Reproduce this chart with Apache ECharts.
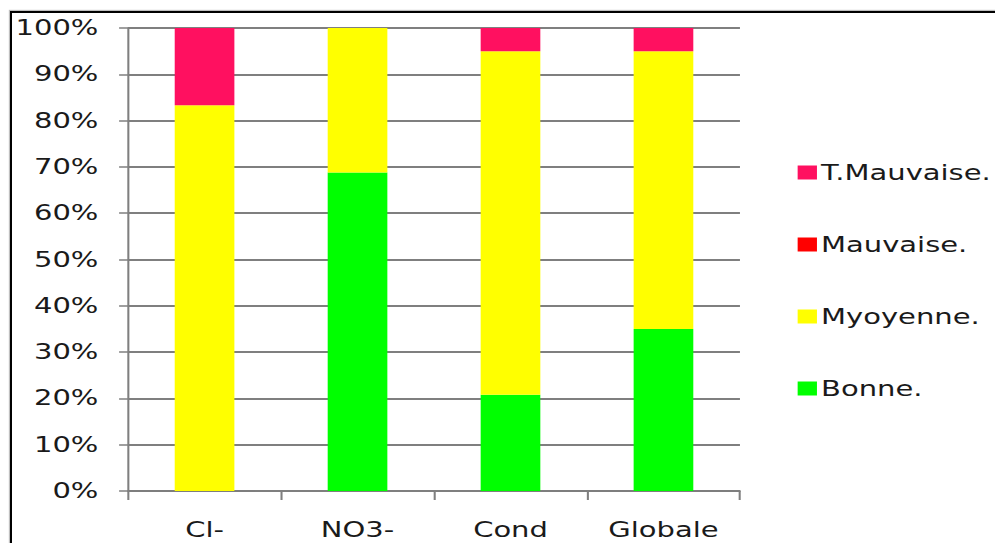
<!DOCTYPE html>
<html>
<head>
<meta charset="utf-8">
<script src="https://cdn.jsdelivr.net/npm/echarts@6/dist/echarts.min.js"></script>
<style>
  html, body { margin: 0; padding: 0; background: #fff; overflow: hidden; }
  #frame {
    position: absolute; left: 10px; top: 11px; width: 1200px; height: 800px;
    border-left: 2.5px solid #000; border-top: 2.5px solid #000;
    box-shadow: -1px -1px 1px rgba(0,0,0,0.25);
  }
  /* The chart is laid out narrow and widened horizontally, giving wide lettering */
  #chart {
    position: absolute; left: 0; top: 0; width: 721px; height: 543px;
    transform: scaleX(1.38); transform-origin: 0 0;
  }
</style>
</head>
<body>
<div id="frame"></div>
<div id="chart"></div>
<script>
// Share of each quality class per parameter (percent)
const categories   = ['Cl-', 'NO3-', 'Cond', 'Globale'];
const bonne        = [0, 68.8, 20.8, 35];
const moyenne      = [83.3, 31.2, 74.2, 60];
const mauvaise     = [0, 0, 0, 0];
const tresMauvaise = [16.7, 0, 5, 5];
const yTicks       = [0, 10, 20, 30, 40, 50, 60, 70, 80, 90, 100];

const chart = echarts.init(document.getElementById('chart'), null, { renderer: 'svg' });

const font = 'DejaVu Sans, Verdana, sans-serif';
const gray = '#7f7f7f';

function bar(name, data, color) {
  return {
    name, type: 'bar', stack: 'total', data,
    barWidth: '39%',
    itemStyle: { color },
    emphasis: { disabled: true }
  };
}

chart.setOption({
  animation: false,
  backgroundColor: 'transparent',
  grid: { left: 92.8, right: 184.8, top: 28, bottom: 52, containLabel: false },
  legend: {
    orient: 'vertical',
    left: 573, top: 157,
    icon: 'rect',
    itemWidth: 14, itemHeight: 14, itemGap: 51,
    data: ['T.Mauvaise.', 'Mauvaise.', 'Myoyenne.', 'Bonne.'],
    textStyle: { fontFamily: font, fontSize: 21, color: '#1a1a1a', lineHeight: 21, padding: [0, 0, 0, -2] },
    selectedMode: false
  },
  xAxis: {
    type: 'category',
    data: categories,
    boundaryGap: true,
    axisLine: { lineStyle: { color: gray, width: 1.5 } },
    axisTick: { show: true, length: 9, lineStyle: { color: gray, width: 1.5 } },
    axisLabel: { fontFamily: font, fontSize: 21, color: '#1a1a1a', margin: 28 }
  },
  yAxis: {
    type: 'value',
    min: yTicks[0], max: yTicks[yTicks.length - 1], interval: 10,
    axisLine: { show: true, lineStyle: { color: gray, width: 1.5 } },
    axisTick: { show: true, length: 6.5, lineStyle: { color: gray, width: 1.5 } },
    splitLine: { show: true, lineStyle: { color: gray, width: 2 } },
    axisLabel: { fontFamily: font, fontSize: 21, color: '#1a1a1a', margin: 21.5, formatter: '{value}%' }
  },
  series: [
    bar('Bonne.', bonne, '#00ff00'),
    bar('Myoyenne.', moyenne, '#ffff00'),
    bar('Mauvaise.', mauvaise, '#ff0000'),
    bar('T.Mauvaise.', tresMauvaise, '#ff1060')
  ]
});
</script>
</body>
</html>
